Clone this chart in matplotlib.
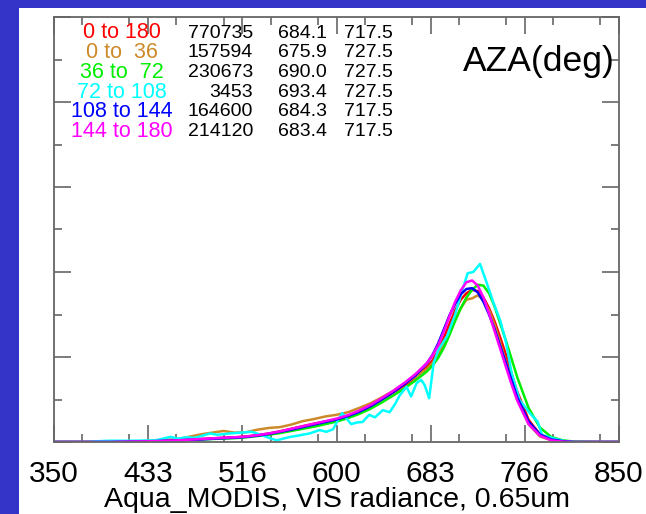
import numpy as np
import matplotlib
matplotlib.use('Agg')
import matplotlib.pyplot as plt
from matplotlib.patches import Rectangle
from matplotlib.ticker import MultipleLocator

plt.rcParams['font.family'] = ['Liberation Sans', 'DejaVu Sans']

# radiance bins (shared by the smooth histograms)
rad = [350, 400, 420, 440, 460, 480, 500,
       510, 520, 530, 540, 550, 560, 570, 580, 590, 600, 610, 620, 630, 640, 650, 660, 670, 680,
       685, 690, 695, 700, 705, 710, 715, 720, 725, 730, 735, 740, 745, 750, 755, 760,
       770, 780, 790, 800, 810, 830, 850]

pdf_all = [0, 0, .001, .003, .005, .007, .010,
           .011, .013, .016, .020, .025, .031, .037, .043, .048, .053, .061, .071, .084, .100, .116, .133, .152, .176,
           .192, .215, .245, .278, .31, .335, .35, .358, .355, .34, .315, .283, .245, .205, .16, .118,
           .052, .018, .006, .002, 0, 0, 0]
pdf_0_36 = [0, 0, .001, .003, .007, .018, .026,
            .022, .023, .029, .033, .035, .041, .049, .054, .060, .064, .070, .080, .091, .105, .12, .137, .153, .172,
            .186, .205, .23, .258, .288, .315, .335, .338, .345, .335, .31, .275, .232, .188, .142, .1,
            .042, .013, .004, .001, 0, 0, 0]
pdf_36_72 = [0, 0, 0, .002, .004, .006, .008,
             .009, .011, .014, .017, .021, .026, .031, .036, .042, .048, .056, .066, .078, .093, .109, .126, .145, .166,
             .18, .198, .222, .252, .285, .315, .34, .358, .37, .368, .35, .318, .278, .238, .195, .152,
             .08, .034, .012, .004, .001, 0, 0]
pdf_108_144 = [0, 0, .001, .002, .004, .006, .009,
               .010, .012, .015, .019, .024, .029, .035, .041, .047, .053, .061, .071, .084, .100, .117, .136, .157, .185,
               .205, .232, .265, .298, .325, .348, .36, .362, .352, .33, .3, .265, .225, .185, .145, .105,
               .048, .018, .006, .002, 0, 0, 0]
pdf_144_180 = [0, 0, .001, .002, .004, .007, .010,
               .011, .013, .016, .020, .025, .031, .037, .043, .049, .055, .063, .074, .087, .103, .12, .139, .16, .186,
               .204, .228, .26, .296, .33, .357, .376, .38, .368, .34, .302, .26, .218, .176, .135, .097,
               .042, .015, .004, .001, 0, 0, 0]

# the 72-108 bin has few samples, so it is noisy and kept on its own grid
rad_72_108 = [350, 380, 390, 400, 420, 440, 453, 460, 467, 475, 488, 495, 505, 515, 525, 532,
              540, 547, 553, 559, 566, 576, 585, 591, 597, 601, 605, 609, 613, 618, 623, 629,
              634, 641, 647, 652, 656, 662, 666, 671, 675, 678, 682, 686, 690, 698, 705, 710,
              716, 721, 727, 733, 739, 745, 750, 755, 762, 771, 778, 782, 792, 800, 810, 850]
pdf_72_108 = [0, 0, .002, .003, .003, .004, .012, .008, .011, .01, .02, .017, .02, .022, .024, .018,
              .01, .004, .008, .012, .015, .02, .028, .024, .03, .05, .068, .055, .042, .046, .047, .064,
              .058, .075, .07, .09, .11, .13, .107, .139, .146, .134, .103, .186, .216, .25, .30, .345,
              .397, .40, .419, .374, .327, .285, .235, .162, .099, .068, .048, .016, .009, .003, 0, 0]

labels = ['0 to 180', '0 to  36', '36 to  72', '72 to 108', '108 to 144', '144 to 180']
counts = ['770735', '157594', '230673', '3453', '164600', '214120']
means = ['684.1', '675.9', '690.0', '693.4', '684.3', '683.4']
modes = ['717.5', '727.5', '727.5', '727.5', '717.5', '717.5']
colors = ['#ff0000', '#cd8a2a', '#00ee00', '#00ffff', '#0000ff', '#ff00ff']

xticks = [350, 433.33, 516.67, 600, 683.33, 766.67, 850]
xtick_labels = ['350', '433', '516', '600', '683', '766', '850']

W, H = 646, 514
fig = plt.figure(figsize=(W / 100, H / 100), dpi=100, facecolor='#3434c8')
fig.patches.append(Rectangle((19 / W, 0), 1, 1 - 8 / H, transform=fig.transFigure,
                             facecolor='white', edgecolor='none', zorder=-10))

ax = fig.add_axes([54 / W, (H - 442) / H, (619 - 54) / W, (442 - 17) / H])
ax.set_facecolor('white')

series = [(rad, pdf_all), (rad, pdf_0_36), (rad, pdf_36_72),
          (rad_72_108, pdf_72_108), (rad, pdf_108_144), (rad, pdf_144_180)]
for (xs, ys), c in zip(series, colors):
    ax.plot(xs, ys, color=c, lw=1.8, solid_joinstyle='round')

ax.set_xlim(350, 850)
ax.set_ylim(0, 1)
ax.set_xticks(xticks)
ax.set_xticklabels(xtick_labels)
ax.xaxis.set_minor_locator(MultipleLocator(500 / 12))
ax.yaxis.set_major_locator(MultipleLocator(0.2))
ax.yaxis.set_minor_locator(MultipleLocator(0.1))
ax.tick_params(which='both', direction='in', top=True, right=True, color='#666666', width=1.2)
ax.tick_params(which='major', length=12, labelsize=21.5, pad=13)
ax.tick_params(which='minor', length=6)
ax.tick_params(axis='y', labelleft=False)
for s in ax.spines.values():
    s.set_color('#666666')
    s.set_linewidth(1.3)
ax.set_xlabel('Aqua_MODIS, VIS radiance, 0.65um', fontsize=20.5, labelpad=-1)

# table of bins: label, count, mean, mode
for i in range(len(labels)):
    y = 1 - (33 + 19.7 * i) / H
    fig.text(122 / W, y, labels[i], color=colors[i], fontsize=15.5, ha='center', va='center')
    fig.text(253 / W, y, counts[i], fontsize=14, ha='right', va='center')
    fig.text(327 / W, y, means[i], fontsize=14, ha='right', va='center')
    fig.text(393 / W, y, modes[i], fontsize=14, ha='right', va='center')

fig.text(615 / W, 1 - 62 / H, 'AZA(deg)', fontsize=25.5, ha='right', va='center')

fig.savefig('out.png', dpi=100, facecolor=fig.get_facecolor())
